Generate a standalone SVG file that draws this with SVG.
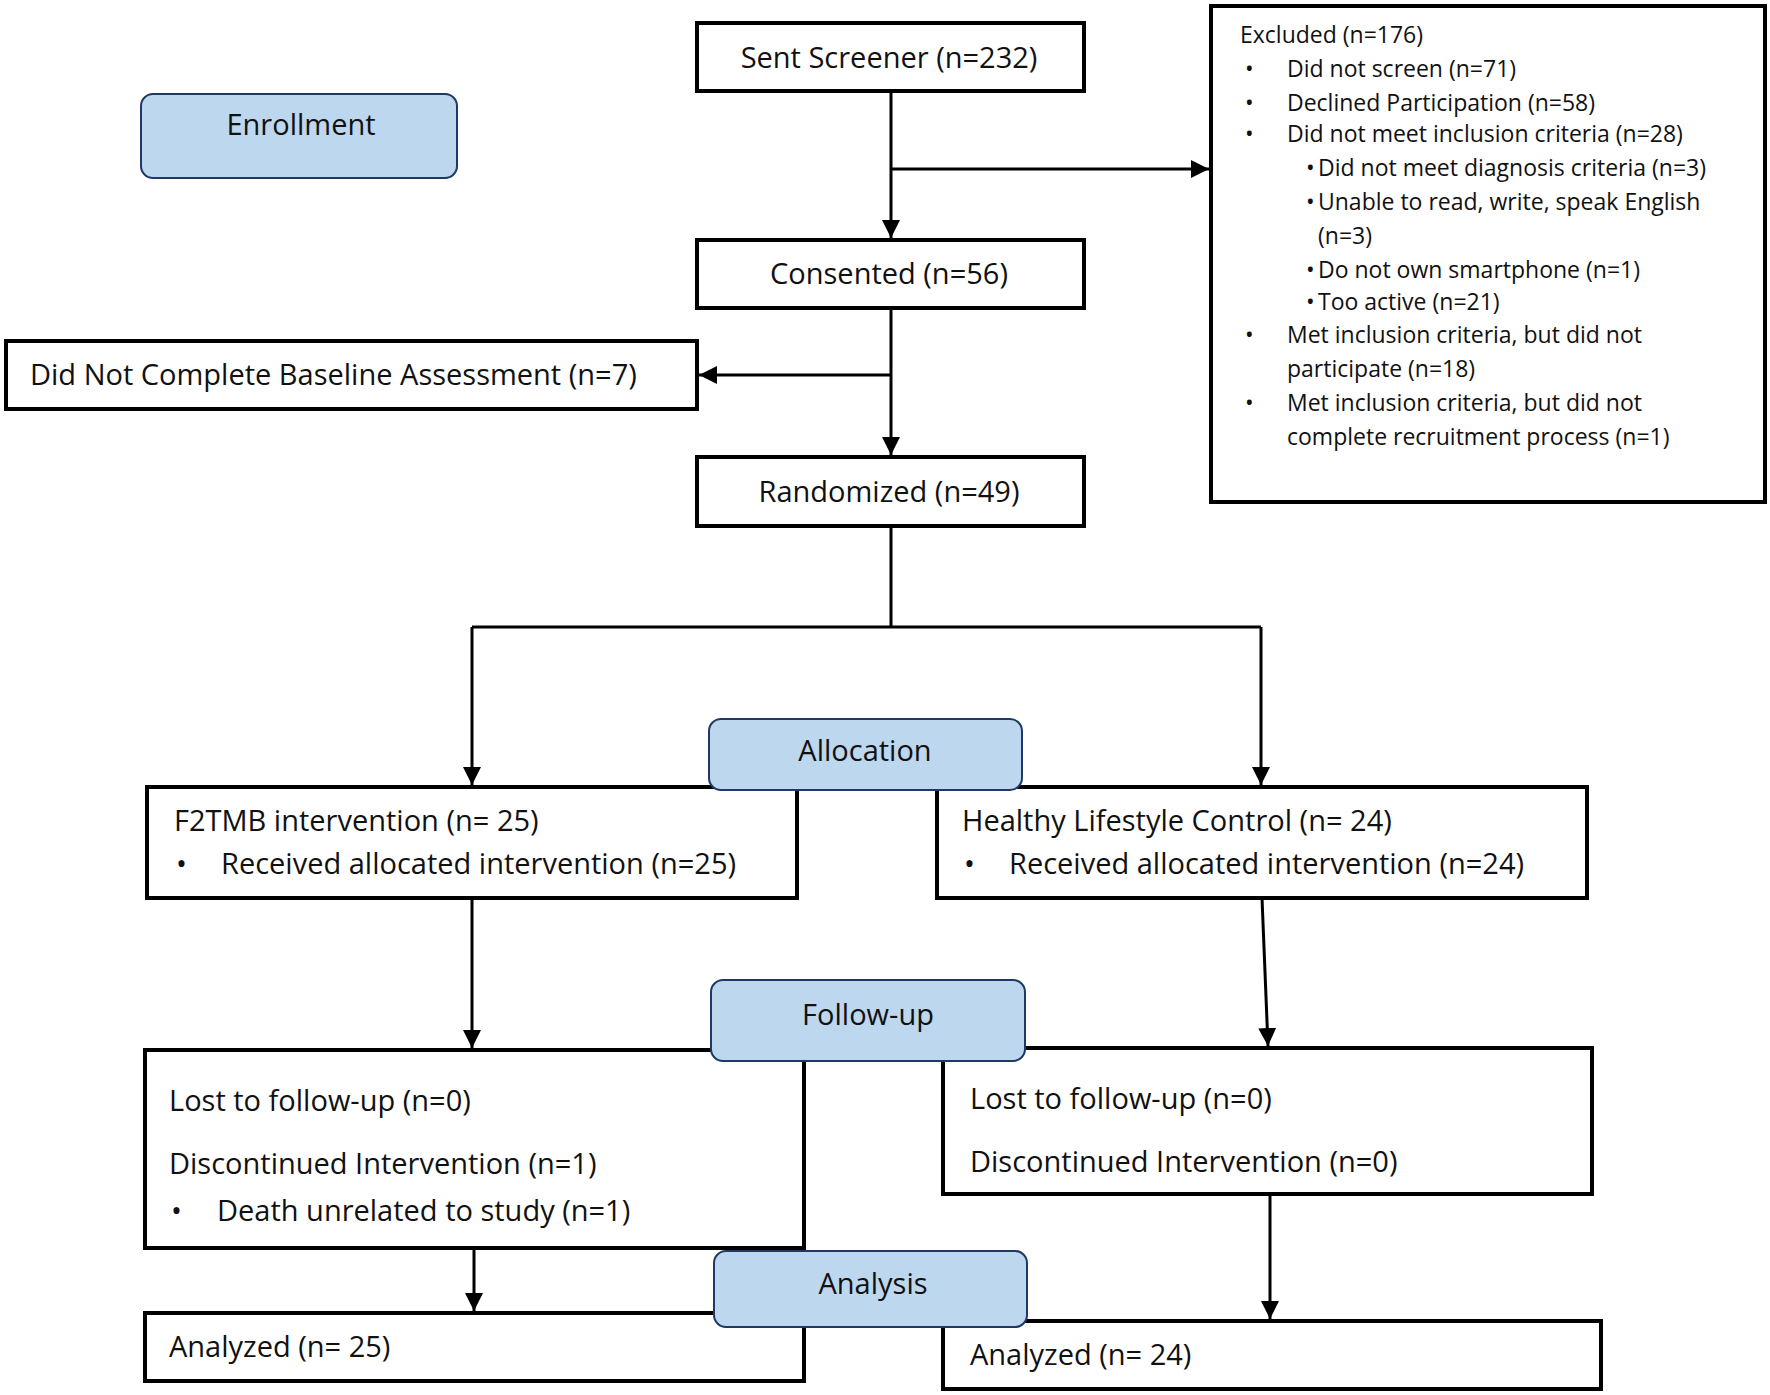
<svg xmlns="http://www.w3.org/2000/svg" width="1770" height="1395" viewBox="0 0 1770 1395">
<defs>
<style>
.box{fill:#fff;stroke:#000;stroke-width:4}
.lbl{fill:#bdd7ee;stroke:#1f3864;stroke-width:2}
text{font-family:"Open Sans","Liberation Sans",sans-serif;fill:#111}
.t{font-size:29px}
.s{font-size:23px}
.c{text-anchor:middle}
.ln{stroke:#000;stroke-width:3;fill:none}
</style>
<marker id="a" viewBox="0 0 10 10" refX="10" refY="5" markerWidth="6" markerHeight="6" orient="auto"><path d="M0,0L10,5L0,10z" fill="#000"/></marker>
</defs>
<rect width="1770" height="1395" fill="#fff"/>
<g id="connectors">
<path class="ln" d="M891,91V238" marker-end="url(#a)"/>
<path class="ln" d="M891,169H1209" marker-end="url(#a)"/>
<path class="ln" d="M891,308V455" marker-end="url(#a)"/>
<path class="ln" d="M891,375H699" marker-end="url(#a)"/>
<path class="ln" d="M891,526V627"/>
<path class="ln" d="M472,627H1261"/>
<path class="ln" d="M472,627V785" marker-end="url(#a)"/>
<path class="ln" d="M1261,627V785" marker-end="url(#a)"/>
<path class="ln" d="M472,898V1048" marker-end="url(#a)"/>
<path class="ln" d="M1262,898L1268,1046" marker-end="url(#a)"/>
<path class="ln" d="M474,1248V1311" marker-end="url(#a)"/>
<path class="ln" d="M1270,1194V1319" marker-end="url(#a)"/>
</g>
<g id="enrollment"><rect class="lbl" x="141" y="94" width="316" height="84" rx="12"/><text class="t c" x="301" y="135">Enrollment</text></g>
<g id="sent"><rect class="box" x="697" y="23" width="387" height="68"/><text class="t c" x="889" y="68">Sent Screener (n=232)</text></g>
<g id="excluded"><rect class="box" x="1211" y="6" width="554" height="496"/>
<text class="s" x="1240" y="43">Excluded (n=176)</text>
<text class="s" x="1245" y="77">•</text><text class="s" x="1287" y="77">Did not screen  (n=71)</text>
<text class="s" x="1245" y="111">•</text><text class="s" x="1287" y="111">Declined Participation (n=58)</text>
<text class="s" x="1245" y="142">•</text><text class="s" x="1287" y="142">Did not meet inclusion criteria (n=28)</text>
<text class="s" x="1306" y="176">•</text><text class="s" x="1318" y="176">Did not meet diagnosis criteria (n=3)</text>
<text class="s" x="1306" y="210">•</text><text class="s" x="1318" y="210">Unable to read, write, speak English</text>
<text class="s" x="1318" y="244">(n=3)</text>
<text class="s" x="1306" y="278">•</text><text class="s" x="1318" y="278">Do not own smartphone (n=1)</text>
<text class="s" x="1306" y="310">•</text><text class="s" x="1318" y="310">Too active (n=21)</text>
<text class="s" x="1245" y="343">•</text><text class="s" x="1287" y="343">Met inclusion criteria, but did not</text>
<text class="s" x="1287" y="377">participate (n=18)</text>
<text class="s" x="1245" y="411">•</text><text class="s" x="1287" y="411">Met inclusion criteria, but did not</text>
<text class="s" x="1287" y="445">complete recruitment process (n=1)</text>
</g>
<g id="consented"><rect class="box" x="697" y="240" width="387" height="68"/><text class="t c" x="889" y="284">Consented (n=56)</text></g>
<g id="baseline"><rect class="box" x="6" y="341" width="691" height="68"/><text class="t" x="30" y="385">Did Not Complete  Baseline Assessment (n=7)</text></g>
<g id="randomized"><rect class="box" x="697" y="457" width="387" height="69"/><text class="t c" x="889" y="502">Randomized (n=49)</text></g>
<g id="f2tmb"><rect class="box" x="147" y="787" width="650" height="111"/><text class="t" x="174" y="831">F2TMB intervention (n= 25)</text><text class="t" x="176" y="874">•</text><text class="t" x="221" y="874">Received allocated intervention (n=25)</text></g>
<g id="healthy"><rect class="box" x="937" y="787" width="650" height="111"/><text class="t" x="962" y="831">Healthy Lifestyle Control (n= 24)</text><text class="t" x="964" y="874">•</text><text class="t" x="1009" y="874">Received allocated intervention (n=24)</text></g>
<g id="allocation"><rect class="lbl" x="709" y="719" width="313" height="71" rx="12"/><text class="t c" x="865" y="761">Allocation</text></g>
<g id="fu-left"><rect class="box" x="145" y="1050" width="659" height="198"/><text class="t" x="169" y="1111">Lost to follow-up (n=0)</text><text class="t" x="169" y="1174">Discontinued Intervention (n=1)</text><text class="t" x="171" y="1221">•</text><text class="t" x="217" y="1221">Death unrelated to study (n=1)</text></g>
<g id="fu-right"><rect class="box" x="943" y="1048" width="649" height="146"/><text class="t" x="970" y="1109">Lost to follow-up (n=0)</text><text class="t" x="970" y="1172">Discontinued Intervention (n=0)</text></g>
<g id="followup"><rect class="lbl" x="711" y="980" width="314" height="81" rx="12"/><text class="t c" x="868" y="1025">Follow-up</text></g>
<g id="an-left"><rect class="box" x="145" y="1313" width="659" height="68"/><text class="t" x="169" y="1357">Analyzed (n= 25)</text></g>
<g id="an-right"><rect class="box" x="943" y="1321" width="658" height="68"/><text class="t" x="970" y="1365">Analyzed  (n= 24)</text></g>
<g id="analysis"><rect class="lbl" x="714" y="1251" width="313" height="76" rx="12"/><text class="t c" x="873" y="1294">Analysis</text></g>
</svg>
